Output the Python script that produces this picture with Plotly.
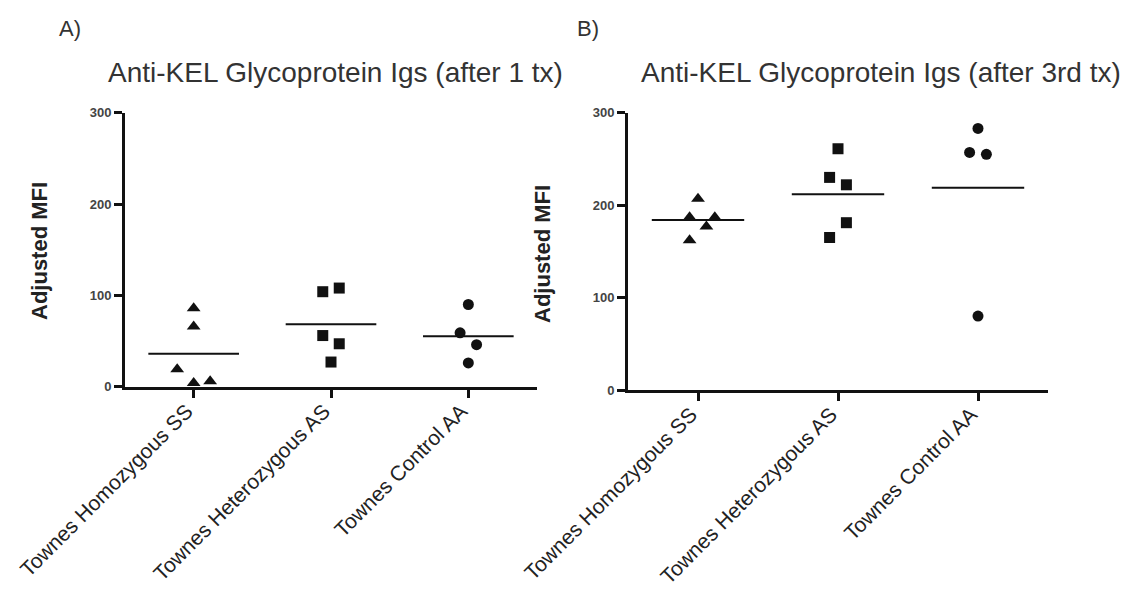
import numpy as np
import plotly.graph_objects as go

categories = ["Townes Homozygous SS", "Townes Heterozygous AS", "Townes Control AA"]
y_ticks = [0, 100, 200, 300]

# Panel A: after 1 tx
a_ss = [86, 66, 19, 4, 6]
a_as = [104, 108, 56, 47, 27]
a_aa = [90, 59, 46, 26]
# Panel B: after 3rd tx
b_ss = [207, 187, 187, 177, 162]
b_as = [261, 230, 222, 181, 165]
b_aa = [283, 257, 255, 80]

# horizontal spread of points within each group (category units)
a_ss_jit = [0, 0, -0.12, 0, 0.12]
a_as_jit = [-0.06, 0.06, -0.06, 0.06, 0]
a_aa_jit = [0, -0.06, 0.06, 0]
b_ss_jit = [0, -0.06, 0.12, 0.06, -0.06]
b_as_jit = [0, -0.06, 0.06, 0.06, -0.06]
b_aa_jit = [0, -0.06, 0.06, 0]

titles = ["Anti-KEL Glycoprotein Igs (after 1 tx)", "Anti-KEL Glycoprotein Igs (after 3rd tx)"]
panel_labels = ["A)", "B)"]
y_title = "Adjusted MFI"

symbols = ["triangle-up", "square", "circle"]
sizes = [12, 11, 11]
HALF = 0.33

fig = go.Figure()

panels = [
    ("x", "y", [a_ss, a_as, a_aa], [a_ss_jit, a_as_jit, a_aa_jit]),
    ("x2", "y2", [b_ss, b_as, b_aa], [b_ss_jit, b_as_jit, b_aa_jit]),
]
for xa, ya, groups, jits in panels:
    for i, (vals, jit) in enumerate(zip(groups, jits)):
        fig.add_trace(go.Scatter(
            x=[i + j for j in jit], y=vals, mode="markers",
            marker=dict(symbol=symbols[i], size=sizes[i], color="#111111", line=dict(width=0)),
            xaxis=xa, yaxis=ya, cliponaxis=False, showlegend=False, hoverinfo="y"))
        m = float(np.mean(vals))
        fig.add_trace(go.Scatter(
            x=[i - HALF, i + HALF], y=[m, m], mode="lines",
            line=dict(color="#111111", width=2),
            xaxis=xa, yaxis=ya, cliponaxis=False, showlegend=False, hoverinfo="skip"))

# page body has an 8px margin; figure is sized to fit inside the window
OFF = 8
W, H = 1128 - 2 * OFF, 595 - 2 * OFF
def px(x):
    return (x - OFF) / W
def py(y):
    return 1 - (y - OFF) / H

xaxis_common = dict(
    range=[-0.5, 2.5], tickmode="array", tickvals=[0, 1, 2], ticktext=categories,
    tickangle=-45, showline=True, linecolor="#111111", linewidth=3,
    ticks="outside", ticklen=8, tickwidth=3, tickcolor="#111111",
    showgrid=False, zeroline=False, automargin=False,
    ticklabelshift=-7, ticklabelstandoff=-7,
    tickfont=dict(family="Liberation Sans, Arial, sans-serif", size=21, color="#222222"),
)
yaxis_common = dict(
    range=[0, 300], tickmode="array", tickvals=y_ticks,
    showline=True, linecolor="#111111", linewidth=3,
    ticks="outside", ticklen=8, tickwidth=3, tickcolor="#111111",
    showgrid=False, zeroline=False, automargin=False,
    tickfont=dict(family="Liberation Sans, Arial, sans-serif", size=13, color="#444444", weight="bold"),
)

fig.update_layout(
    template="none",
    width=W, height=H, margin=dict(l=0, r=0, t=0, b=0, autoexpand=False),
    paper_bgcolor="white", plot_bgcolor="white",
    xaxis=dict(domain=[px(125), px(537)], anchor="y", **xaxis_common),
    yaxis=dict(domain=[py(386.7), py(112.7)], anchor="x", **yaxis_common),
    xaxis2=dict(domain=[px(628), px(1048)], anchor="y2", **xaxis_common),
    yaxis2=dict(domain=[py(390), py(112.7)], anchor="x2", **yaxis_common),
)

font_main = "Liberation Sans, Arial, sans-serif"
ann = []
for t, cx in zip(titles, [335, 881]):
    ann.append(dict(text=t, x=px(cx), y=py(90), xref="paper", yref="paper",
                    xanchor="center", yanchor="bottom", showarrow=False,
                    font=dict(family=font_main, size=28, color="#333333")))
for t, lx in zip(panel_labels, [57, 575]):
    ann.append(dict(text=t, x=px(lx), y=py(28), xref="paper", yref="paper",
                    xanchor="left", yanchor="middle", showarrow=False,
                    font=dict(family=font_main, size=22, color="#333333")))
for cx, cy in [(40, 251), (543, 254)]:
    ann.append(dict(text=y_title, x=px(cx), y=py(cy), xref="paper", yref="paper",
                    xanchor="center", yanchor="middle", showarrow=False, textangle=-90,
                    font=dict(family=font_main, size=22, color="#222222", weight="bold")))
fig.update_layout(annotations=ann)

fig.write_html("out.html")
